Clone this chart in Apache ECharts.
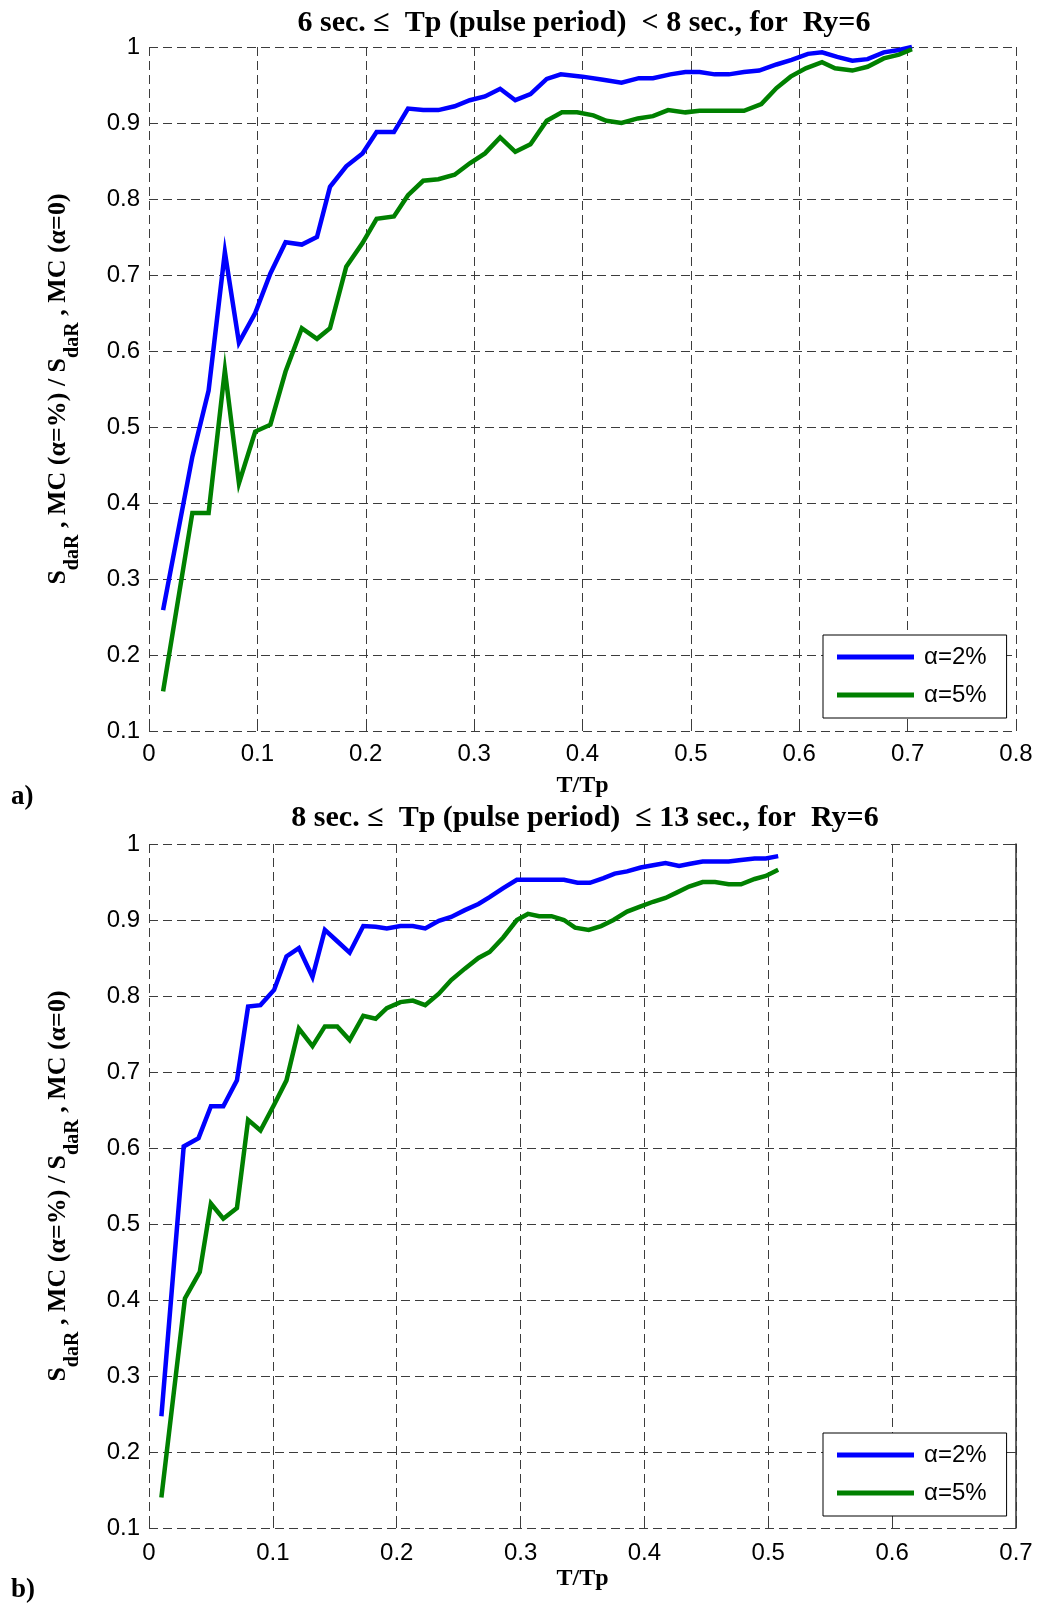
<!DOCTYPE html>
<html>
<head>
<meta charset="utf-8">
<title>T/Tp ratio curves, Ry=6</title>
<script src="https://cdn.jsdelivr.net/npm/echarts@6/dist/echarts.min.js"></script>
<style>
  html, body { margin: 0; padding: 0; background: #fff; }
  #chart { width: 1040px; height: 1604px; }
</style>
</head>
<body>
<div id="chart"></div>
<script>
// ---- Panel a) 6 sec <= Tp < 8 sec ----
const xBlueA = [0.013, 0.040, 0.055, 0.070, 0.083, 0.098, 0.112, 0.126, 0.141, 0.155,
  0.167, 0.182, 0.197, 0.210, 0.226, 0.239, 0.253, 0.267, 0.282, 0.296,
  0.310, 0.324, 0.338, 0.352, 0.367, 0.380, 0.400, 0.419, 0.436, 0.452,
  0.465, 0.481, 0.495, 0.508, 0.522, 0.535, 0.549, 0.563, 0.579, 0.593,
  0.608, 0.621, 0.635, 0.649, 0.663, 0.678, 0.692, 0.704];
const blueA = [0.259, 0.461, 0.548, 0.730, 0.611, 0.650, 0.702, 0.743, 0.740, 0.750,
  0.816, 0.843, 0.860, 0.888, 0.888, 0.919, 0.917, 0.917, 0.922, 0.930,
  0.935, 0.945, 0.930, 0.938, 0.958, 0.964, 0.961, 0.957, 0.953, 0.959,
  0.959, 0.964, 0.967, 0.967, 0.964, 0.964, 0.967, 0.969, 0.977, 0.983,
  0.991, 0.993, 0.987, 0.982, 0.984, 0.993, 0.996, 1.000];
const xGreenA = [0.013, 0.040, 0.055, 0.070, 0.083, 0.098, 0.112, 0.126, 0.141, 0.155,
  0.167, 0.182, 0.197, 0.210, 0.226, 0.239, 0.253, 0.267, 0.282, 0.296,
  0.310, 0.324, 0.338, 0.352, 0.367, 0.381, 0.395, 0.410, 0.422, 0.436,
  0.451, 0.465, 0.479, 0.495, 0.508, 0.522, 0.536, 0.549, 0.565, 0.579,
  0.592, 0.606, 0.621, 0.633, 0.649, 0.663, 0.678, 0.692, 0.704];
const greenA = [0.152, 0.387, 0.387, 0.575, 0.426, 0.494, 0.503, 0.573, 0.630, 0.616,
  0.630, 0.711, 0.742, 0.774, 0.777, 0.805, 0.824, 0.826, 0.832, 0.847,
  0.860, 0.881, 0.862, 0.872, 0.903, 0.914, 0.914, 0.910, 0.903, 0.900,
  0.906, 0.909, 0.917, 0.914, 0.916, 0.916, 0.916, 0.916, 0.925, 0.946,
  0.961, 0.972, 0.980, 0.972, 0.969, 0.974, 0.985, 0.990, 0.997];

// ---- Panel b) 8 sec <= Tp <= 13 sec ----
const xBlueB = [0.010, 0.028, 0.040, 0.050, 0.060, 0.071, 0.080, 0.090, 0.101, 0.111,
  0.121, 0.132, 0.142, 0.152, 0.162, 0.173, 0.183, 0.192, 0.203, 0.213,
  0.223, 0.234, 0.244, 0.255, 0.266, 0.275, 0.286, 0.297, 0.308, 0.322,
  0.335, 0.346, 0.356, 0.367, 0.376, 0.386, 0.397, 0.407, 0.417, 0.428,
  0.437, 0.447, 0.458, 0.468, 0.478, 0.489, 0.498, 0.508];
const blueB = [0.247, 0.602, 0.613, 0.655, 0.655, 0.689, 0.786, 0.788, 0.808, 0.852,
  0.863, 0.825, 0.887, 0.872, 0.857, 0.892, 0.891, 0.889, 0.892, 0.892,
  0.889, 0.899, 0.904, 0.913, 0.921, 0.930, 0.942, 0.953, 0.953, 0.953,
  0.953, 0.949, 0.949, 0.955, 0.961, 0.964, 0.969, 0.972, 0.975, 0.971,
  0.974, 0.977, 0.977, 0.977, 0.979, 0.981, 0.981, 0.984];
const xGreenB = [0.010, 0.029, 0.041, 0.050, 0.060, 0.071, 0.080, 0.090, 0.101, 0.111,
  0.121, 0.132, 0.142, 0.152, 0.162, 0.173, 0.183, 0.192, 0.203, 0.213,
  0.223, 0.234, 0.244, 0.255, 0.266, 0.275, 0.286, 0.297, 0.306, 0.315,
  0.325, 0.335, 0.344, 0.355, 0.365, 0.375, 0.386, 0.397, 0.407, 0.417,
  0.426, 0.436, 0.447, 0.457, 0.468, 0.478, 0.489, 0.498, 0.508];
const greenB = [0.140, 0.402, 0.437, 0.527, 0.507, 0.521, 0.637, 0.623, 0.657, 0.689,
  0.757, 0.734, 0.760, 0.760, 0.742, 0.774, 0.770, 0.784, 0.792, 0.794,
  0.788, 0.803, 0.821, 0.836, 0.850, 0.858, 0.877, 0.900, 0.908, 0.905,
  0.905, 0.900, 0.890, 0.887, 0.892, 0.900, 0.911, 0.918, 0.924, 0.929,
  0.936, 0.944, 0.950, 0.950, 0.947, 0.947, 0.954, 0.958, 0.966];

const seriesNames = ['α=2%', 'α=5%'];
const titles = [
  '6 sec. ≤  Tp (pulse period)  < 8 sec., for  Ry=6',
  '8 sec. ≤  Tp (pulse period)  ≤ 13 sec., for  Ry=6'
];
const panelTags = ['a)', 'b)'];
const xMax = [0.8, 0.7];

const pairs = (xs, ys) => xs.map((x, i) => [x, ys[i]]);

const SANS = '"Liberation Sans", Arial, sans-serif';
const SERIF = '"Liberation Serif", "Times New Roman", serif';
const gridColor = '#3c3c3c';
const dash = [9, 5];

const grids = [
  { left: 149, top: 47, width: 867, height: 684 },
  { left: 149, top: 844, width: 867, height: 684 }
];

function makeX(i, labelMargin, nameGap) {
  return {
    type: 'value', gridIndex: i, min: 0, max: xMax[i], interval: 0.1,
    name: 'T/Tp', nameLocation: 'middle', nameGap: nameGap,
    nameTextStyle: { fontFamily: SERIF, fontWeight: 'bold', fontSize: 24, color: '#000' },
    axisLine: { show: false },
    axisTick: { show: true, inside: true, length: 5, lineStyle: { color: gridColor } },
    axisLabel: { fontFamily: SANS, fontSize: 24, color: '#000', margin: labelMargin },
    splitLine: { show: true, lineStyle: { color: gridColor, width: 1, type: dash } }
  };
}

const yName = '{m|S}{s|daR}{m| , MC (α=%) / S}{s|daR}{m| , MC (α=0)}';
function makeY(i) {
  return {
    type: 'value', gridIndex: i, min: 0.1, max: 1, interval: 0.1,
    name: yName, nameLocation: 'middle', nameRotate: 90, nameGap: 78,
    nameTextStyle: {
      color: '#000',
      rich: {
        m: { fontFamily: SERIF, fontWeight: 'bold', fontSize: 26, lineHeight: 26, verticalAlign: 'top', color: '#000' },
        s: { fontFamily: SERIF, fontWeight: 'bold', fontSize: 20, lineHeight: 20, verticalAlign: 'top', padding: [18, 0, 0, 0], color: '#000' }
      }
    },
    axisLine: { show: false },
    axisTick: { show: true, inside: true, length: 5, lineStyle: { color: gridColor } },
    axisLabel: { fontFamily: SANS, fontSize: 24, color: '#000', margin: 9 },
    splitLine: { show: true, lineStyle: { color: gridColor, width: 1, type: dash } }
  };
}

function makeLine(name, color, data, gi) {
  return {
    name: name, type: 'line', xAxisIndex: gi, yAxisIndex: gi,
    data: data, showSymbol: false, symbol: 'none', clip: false,
    lineStyle: { color: color, width: 4.5, join: 'miter' },
    itemStyle: { color: color }, z: 3
  };
}

function makeLegend(top) {
  return {
    show: true, orient: 'vertical', left: 823, top: top,
    data: seriesNames, selectedMode: false,
    icon: 'rect', itemWidth: 77, itemHeight: 5, itemGap: 14,
    padding: [10, 20, 11, 14],
    backgroundColor: '#fff', borderColor: '#000', borderWidth: 1,
    textStyle: { fontFamily: SANS, fontSize: 24, color: '#000', padding: [0, 0, 0, 5] },
    z: 10
  };
}

const chart = echarts.init(document.getElementById('chart'), null, { renderer: 'canvas' });
chart.setOption({
  animation: false,
  backgroundColor: '#fff',
  grid: grids,
  xAxis: [makeX(0, 11, 43), makeX(1, 13, 39)],
  yAxis: [
    makeY(0),
    makeY(1),
    // solid right border of panel b
    {
      type: 'value', gridIndex: 1, min: 0.1, max: 1, interval: 0.1, position: 'right',
      axisLine: { show: true, lineStyle: { color: '#333', width: 1.5 } },
      axisTick: { show: true, inside: true, length: 5, lineStyle: { color: gridColor } },
      axisLabel: { show: false }, splitLine: { show: false }
    }
  ],
  legend: [makeLegend(635), makeLegend(1433)],
  series: [
    makeLine(seriesNames[0], '#0000ff', pairs(xBlueA, blueA), 0),
    makeLine(seriesNames[1], '#008000', pairs(xGreenA, greenA), 0),
    makeLine(seriesNames[0], '#0000ff', pairs(xBlueB, blueB), 1),
    makeLine(seriesNames[1], '#008000', pairs(xGreenB, greenB), 1)
  ],
  graphic: [
    { type: 'text', x: 584, y: 23, style: { text: titles[0], fill: '#000', font: 'bold 30px ' + SERIF, align: 'center', verticalAlign: 'middle' } },
    { type: 'text', x: 585, y: 818, style: { text: titles[1], fill: '#000', font: 'bold 30px ' + SERIF, align: 'center', verticalAlign: 'middle' } },
    { type: 'text', x: 11, y: 797, style: { text: panelTags[0], fill: '#000', font: 'bold 27px ' + SERIF, align: 'left', verticalAlign: 'middle' } },
    { type: 'text', x: 11, y: 1590, style: { text: panelTags[1], fill: '#000', font: 'bold 27px ' + SERIF, align: 'left', verticalAlign: 'middle' } }
  ]
});
</script>
</body>
</html>
